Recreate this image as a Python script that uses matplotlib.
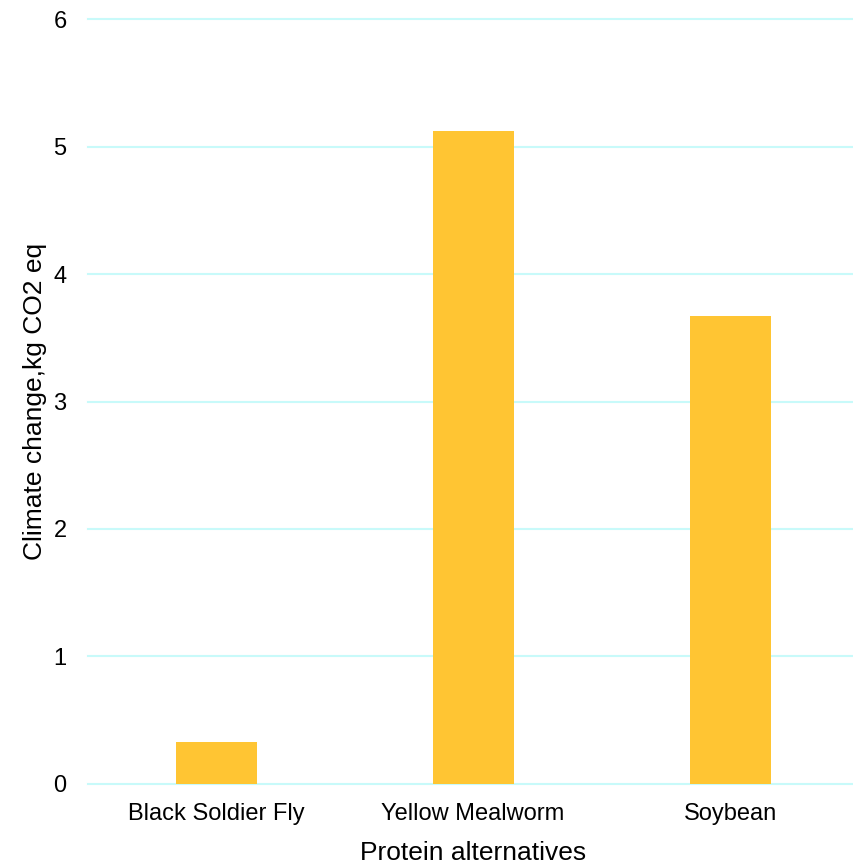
import matplotlib
matplotlib.use("Agg")
from matplotlib import pyplot as plt

# data
proteins = ["Black Soldier Fly", "Yellow Mealworm", "Soybean"]
climate = [0.33, 5.12, 3.67]

plt.rcParams['font.family'] = ['Liberation Sans', 'DejaVu Sans']

fig = plt.figure(figsize=(8.54, 8.64), dpi=100)
ax = fig.add_axes([0.1025, 0.0926, 0.903, 0.8854])

x = list(range(len(proteins)))
ax.bar(x, climate, width=0.315, color="#FFC533", zorder=2)

ax.set_xlim(-0.5, 2.5)
ax.set_ylim(0, 6)
ax.set_yticks(range(0, 7))
ax.set_xticks(x)
ax.set_xticklabels(proteins)
ax.grid(axis="y", color="#C8FAFA", linewidth=1.5, zorder=0)
for gl in ax.get_ygridlines():
    gl.set_clip_on(False)
ax.set_axisbelow(True)
for s in ax.spines.values():
    s.set_visible(False)
ax.tick_params(length=0, labelsize=17)
ax.tick_params(axis="y", pad=15)
ax.tick_params(axis="x", pad=14)

ax.set_xlabel("Protein alternatives", fontsize=19, labelpad=11)
ax.set_ylabel("Climate change,kg CO2 eq", fontsize=19, labelpad=5)

fig.savefig("out.png", dpi=100, facecolor="white")
